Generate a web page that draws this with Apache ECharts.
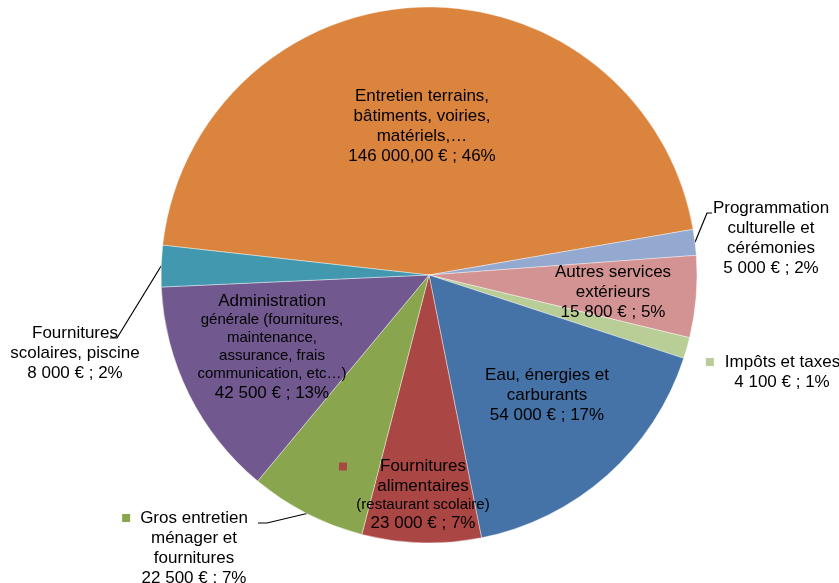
<!DOCTYPE html>
<html>
<head>
<meta charset="utf-8">
<script src="https://cdn.jsdelivr.net/npm/echarts@6/dist/echarts.min.js"></script>
<style>html,body{margin:0;padding:0;background:#fff;}#c{width:839px;height:583px;}</style>
</head>
<body>
<div id="c"></div>
<script>
// ---- data ----
const categories = [
  'Entretien terrains,\nbâtiments, voiries,\nmatériels,…',
  'Programmation\nculturelle et\ncérémonies',
  'Autres services\nextérieurs',
  'Impôts et taxes',
  'Eau, énergies et\ncarburants',
  'Fournitures\nalimentaires\n(restaurant scolaire)',
  'Gros entretien\nménager et\nfournitures',
  'Administration\ngénérale (fournitures,\nmaintenance,\nassurance, frais\ncommunication, etc…)',
  'Fournitures\nscolaires, piscine'
];
const values = [146000, 5000, 15800, 4100, 54000, 23000, 22500, 42500, 8000];
const decimals = [2, 0, 0, 0, 0, 0, 0, 0, 0];

// ---- styles / label placement ----
const colors = ['#DB843D', '#93A9CF', '#D29392', '#B9CD96', '#4572A7', '#AA4643', '#89A54E', '#71588F', '#4198AF'];
const labelCfg = [
  {x: 422, y: 126},
  {x: 771, y: 238, line: [[707, 213], [712, 213]]},
  {x: 613, y: 292},
  {x: 782, y: 372, key: [11, 18]},
  {x: 547, y: 395},
  {x: 423, y: 495, key: [33, 41], small: [2], smallLH: 17},
  {x: 194, y: 548, key: [10, 18], line: [[267, 523], [258, 523]]},
  {x: 272, y: 347, small: [1, 2, 3, 4], smallLH: 18},
  {x: 75, y: 353, line: [[117, 338], [110, 338]]}
];
const CX = 429, CY = 275, R = 268;
const FONT = 'Arial, "Liberation Sans", sans-serif';

function fmt(v, dec) {
  const s = v.toFixed(dec);
  const parts = s.split('.');
  const intPart = parts[0].replace(/\B(?=(\d{3})+(?!\d))/g, ' ');
  return parts.length > 1 ? intPart + ',' + parts[1] : intPart;
}

const data = values.map(function (v, i) {
  const cfg = labelCfg[i];
  const rich = {
    t: {fontSize: 17, lineHeight: 20, align: 'center', color: '#000', fontFamily: FONT},
    s: {fontSize: 15, lineHeight: cfg.smallLH || 17, align: 'center', color: '#000', fontFamily: FONT},
    sq: {width: 8, height: 8, backgroundColor: colors[i], align: 'left'},
    gl: {width: cfg.key ? cfg.key[0] : 0, align: 'left', fontSize: 17, lineHeight: 20},
    gr: {width: cfg.key ? cfg.key[1] : 0, align: 'right', fontSize: 17, lineHeight: 20}
  };
  const outside = !!cfg.line;
  return {
    value: v,
    name: categories[i],
    itemStyle: {color: colors[i]},
    label: {
      position: outside ? 'outside' : 'inside',
      rich: rich,
      formatter: function (p) {
        const lines = categories[p.dataIndex].split('\n').map(function (ln, k) {
          const tag = (cfg.small && cfg.small.indexOf(k) >= 0) ? 's' : 't';
          let str = '{' + tag + '|' + ln + '}';
          if (k === 0 && cfg.key) str = '{sq|}{gl|}' + str + '{gr|}';
          return str;
        });
        lines.push('{t|' + fmt(values[p.dataIndex], decimals[p.dataIndex]) + ' € ; ' + Math.round(p.percent) + '%}');
        return lines.join('\n');
      }
    },
    labelLine: {show: outside, lineStyle: {color: '#000', width: 1.2}}
  };
});

const chart = echarts.init(document.getElementById('c'), null, {renderer: 'canvas'});
chart.setOption({
  backgroundColor: '#fff',
  animation: false,
  series: [{
    type: 'pie',
    center: [CX, CY],
    radius: [0, R],
    startAngle: 173.6,
    clockwise: true,
    avoidLabelOverlap: false,
    itemStyle: {borderColor: 'rgba(255,255,255,0.5)', borderWidth: 0.8},
    label: {show: true, fontFamily: FONT, color: '#000'},
    labelLine: {show: false},
    emphasis: {disabled: true},
    labelLayout: function (params) {
      const cfg = labelCfg[params.dataIndex];
      const res = {x: cfg.x, y: cfg.y, align: 'center', verticalAlign: 'middle'};
      if (cfg.line) {
        let start = params.labelLinePoints && params.labelLinePoints[0];
        if (!start) {
          let before = 0;
          for (let k = 0; k < params.dataIndex; k++) before += values[k];
          const total = values.reduce(function (a, b) { return a + b; }, 0);
          const mid = (173.6 - (before + values[params.dataIndex] / 2) / total * 360) * Math.PI / 180;
          start = [CX + R * Math.cos(mid), CY - R * Math.sin(mid)];
        }
        res.labelLinePoints = [start].concat(cfg.line);
      }
      return res;
    },
    data: data
  }]
});
</script>
</body>
</html>
